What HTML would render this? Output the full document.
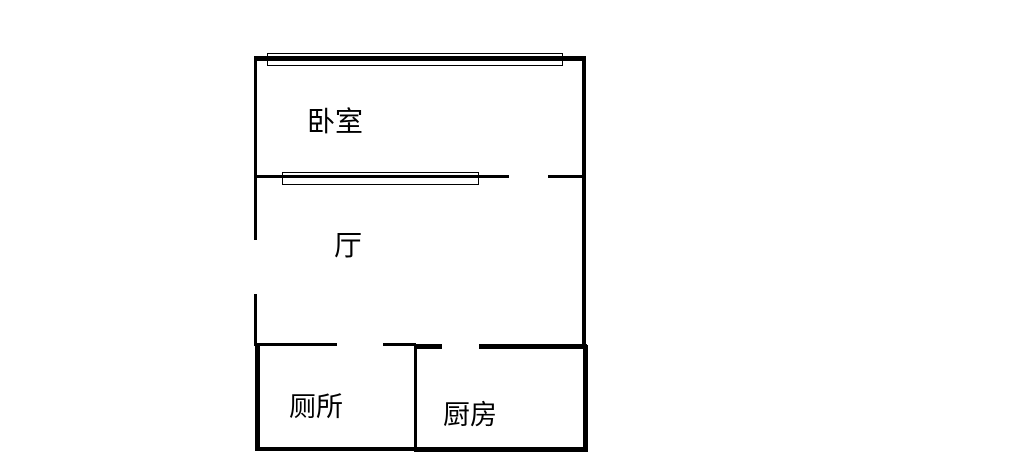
<!DOCTYPE html>
<html><head><meta charset="utf-8"><style>
html,body{margin:0;padding:0;background:#fff;}
body{width:1017px;height:460px;position:relative;overflow:hidden;}
.b{position:absolute;background:#000;}
.w{position:absolute;border:1px solid #000;background:transparent;box-sizing:border-box;}
.t{position:absolute;font-family:"Liberation Sans","Noto Sans CJK SC",sans-serif;color:#000;line-height:1;}
</style></head><body>
<div class="b" style="left:254px;top:56px;width:332px;height:5px"></div>
<div class="w" style="left:267px;top:53px;width:296px;height:13px"></div>
<div class="b" style="left:254px;top:56px;width:3px;height:184px"></div>
<div class="b" style="left:254px;top:294px;width:3px;height:52px"></div>
<div class="b" style="left:582px;top:56px;width:4px;height:290px"></div>
<div class="b" style="left:256px;top:175px;width:253px;height:3px"></div>
<div class="b" style="left:548px;top:175px;width:36px;height:3px"></div>
<div class="w" style="left:282px;top:172px;width:197px;height:13px"></div>
<div class="b" style="left:254px;top:343px;width:83px;height:3px"></div>
<div class="b" style="left:383px;top:343px;width:33px;height:3px"></div>
<div class="b" style="left:415px;top:344px;width:27px;height:5px"></div>
<div class="b" style="left:479px;top:344px;width:108px;height:5px"></div>
<div class="b" style="left:255px;top:345px;width:5px;height:106px"></div>
<div class="b" style="left:255px;top:447px;width:160px;height:4px"></div>
<div class="b" style="left:414px;top:345px;width:3px;height:107px"></div>
<div class="b" style="left:414px;top:447px;width:174px;height:5px"></div>
<div class="b" style="left:583px;top:345px;width:5px;height:107px"></div>
<div class="t" style="left:307px;top:108px;font-size:28px">卧室</div>
<div class="t" style="left:334px;top:232px;font-size:28px">厅</div>
<div class="t" style="left:289px;top:394px;font-size:27px">厕所</div>
<div class="t" style="left:443px;top:402px;font-size:27px">厨房</div>
</body></html>
